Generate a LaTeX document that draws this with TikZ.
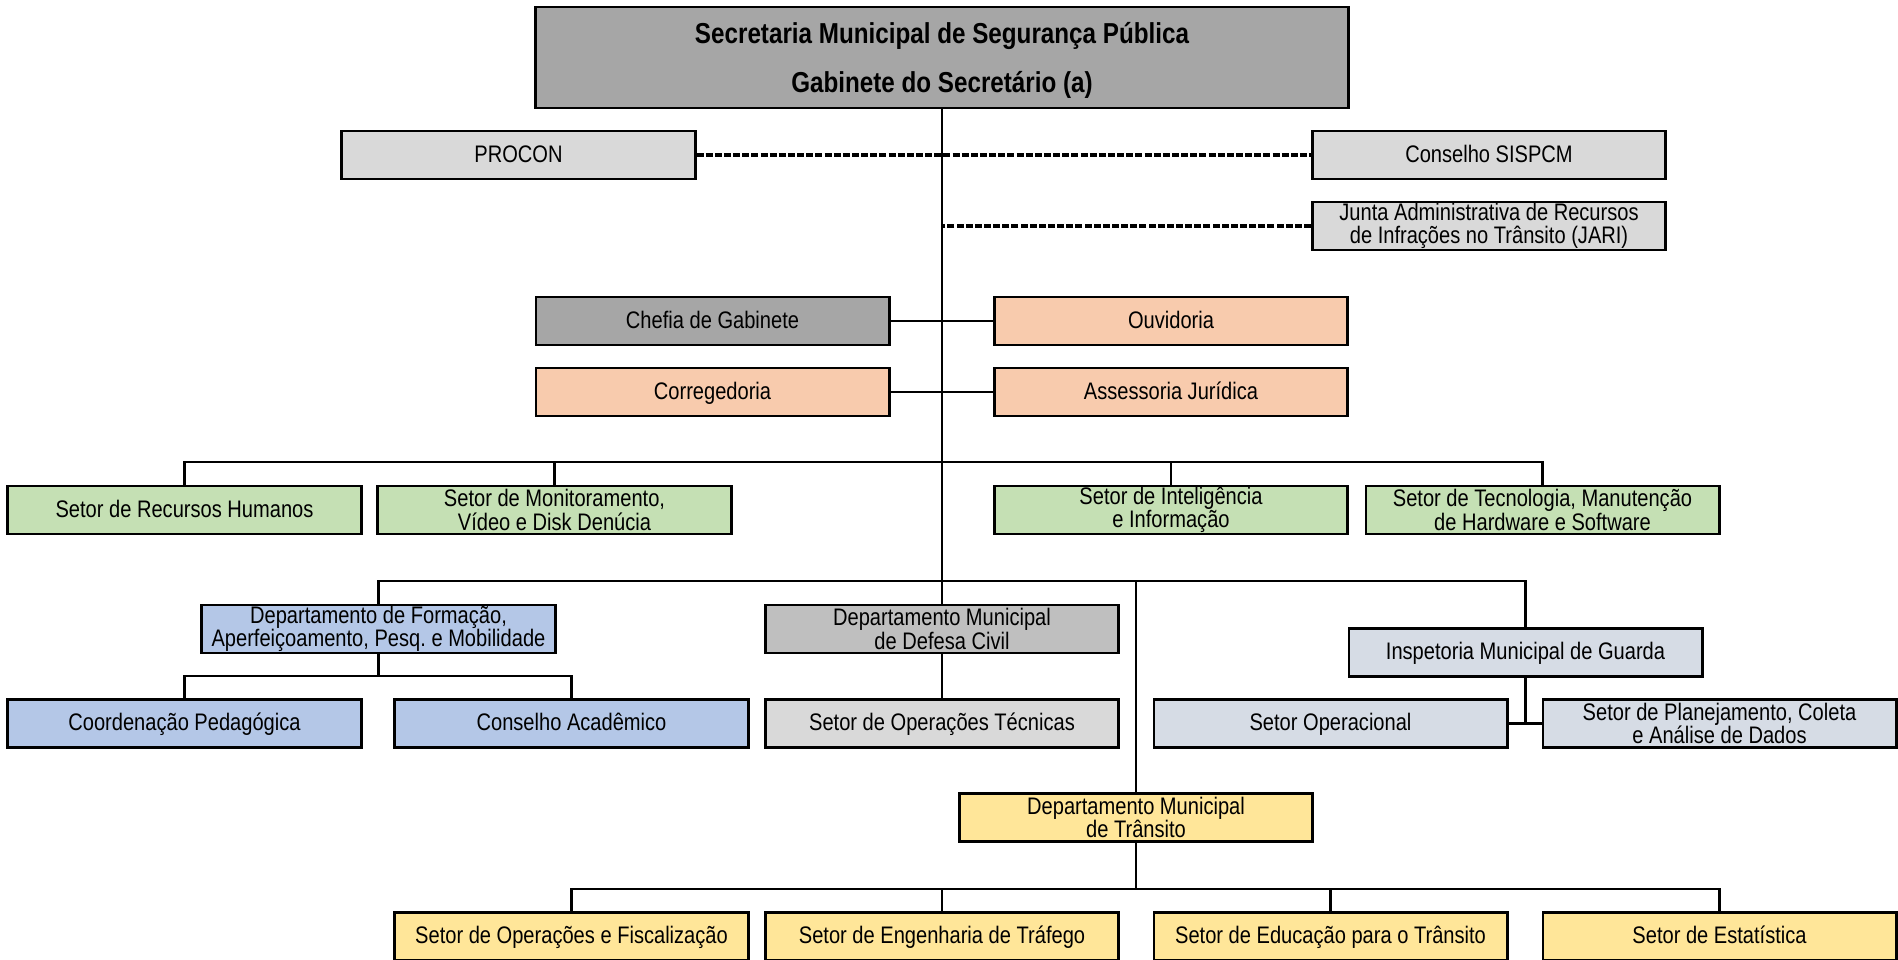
\documentclass[tikz,border=0pt]{standalone}
\usepackage{fontspec}
\setmainfont{Liberation Sans}[FakeStretch=0.84]
\frenchspacing
\definecolor{topgray}{HTML}{A6A6A6}
\definecolor{lightgray}{HTML}{D9D9D9}
\definecolor{civilgray}{HTML}{BFBFBF}
\definecolor{peach}{HTML}{F8CBAD}
\definecolor{sage}{HTML}{C5E0B4}
\definecolor{sky}{HTML}{B4C7E7}
\definecolor{mist}{HTML}{D6DCE5}
\definecolor{sand}{HTML}{FFE699}
\begin{document}
\begin{tikzpicture}[x=0.01cm,y=-0.01cm,line width=0.75pt,
    unit2/.style={draw, line width=0.8pt, minimum width=3.53cm, minimum height=0.48cm,
                  inner sep=0pt, align=center, font=\fontsize{6.8}{6.6}\selectfont},
    unit/.style={unit2, text height=4.4pt, text depth=0.3pt},
    link/.style={line width=0.9pt, dash pattern=on 2pt off 0.6pt}]
                    \useasboundingbox (0,0) rectangle (1898,959);
                    \clip (0,0) rectangle (1898,959);

                    \node[unit2, fill=topgray, minimum width=8.12cm, minimum height=1.01cm, text depth=0pt,
                          font=\bfseries\fontsize{8.2}{13.9}\selectfont] (sec) at (942,57.5)
                          {Secretaria Municipal de Segurança Pública\\Gabinete do Secretário (a)};

                    \node[unit, fill=lightgray] (procon) at (518.5,155) {PROCON};
                    \node[unit, fill=lightgray] (sispcm) at (1489,155) {Conselho SISPCM};
                    \node[unit2, fill=lightgray] (jari) at (1489,226) {Junta Administrativa de Recursos\\de Infrações no Trânsito (JARI)};

                    \node[unit, fill=topgray] (chefia) at (712.5,321) {Chefia de Gabinete};
                    \node[unit, fill=peach] (ouvidoria) at (1171,321) {Ouvidoria};
                    \node[unit, fill=peach] (corregedoria) at (712.5,392) {Corregedoria};
                    \node[unit, fill=peach] (juridica) at (1171,392) {Assessoria Jurídica};

                    \node[unit, fill=sage] (rh) at (184.5,510) {Setor de Recursos Humanos};
                    \node[unit2, fill=sage] (monit) at (554.5,510) {Setor de Monitoramento,\\Vídeo e Disk Denúcia};
                    \node[unit2, fill=sage] (intel) at (1171,510) {Setor de Inteligência\\e Informação};
                    \node[unit2, fill=sage] (tecno) at (1542.5,510) {Setor de Tecnologia, Manutenção\\de Hardware e Software};

                    \node[unit2, fill=sky] (formacao) at (378.5,629) {Departamento de Formação,\\Aperfeiçoamento, Pesq. e Mobilidade};
                    \node[unit2, fill=civilgray] (defesa) at (942,629) {Departamento Municipal\\de Defesa Civil};
                    \node[unit, fill=mist] (guarda) at (1525.5,652.5) {Inspetoria Municipal de Guarda};

                    \node[unit, fill=sky] (pedag) at (184.5,723.5) {Coordenação Pedagógica};
                    \node[unit, fill=sky] (academico) at (571.5,723.5) {Conselho Acadêmico};
                    \node[unit, fill=lightgray] (optec) at (942,723.5) {Setor de Operações Técnicas};
                    \node[unit, fill=mist] (operac) at (1330.5,723.5) {Setor Operacional};
                    \node[unit2, fill=mist] (planej) at (1719.5,723.5) {Setor de Planejamento, Coleta\\e Análise de Dados};

                    \node[unit2, fill=sand] (transito) at (1136,817.5) {Departamento Municipal\\de Trânsito};

                    \node[unit, fill=sand] (fiscal) at (571.5,936.5) {Setor de Operações e Fiscalização};
                    \node[unit, fill=sand] (engenh) at (942,936.5) {Setor de Engenharia de Tráfego};
                    \node[unit, fill=sand] (educ) at (1330.5,936.5) {Setor de Educação para o Trânsito};
                    \node[unit, fill=sand] (estat) at (1719.5,936.5) {Setor de Estatística};

                    \coordinate (bar1) at (0,462);
                    \coordinate (bar2) at (0,581);
                    \coordinate (bar3) at (0,676);
                    \coordinate (bar4) at (0,889);

                    % trunk and staff
                    \draw (sec) -- (defesa);
                    \draw[link] (procon) -- (sispcm);
                    \draw[link] (jari.west) -- (jari.west -| sec.south);
                    \draw (chefia) -- (ouvidoria);
                    \draw (corregedoria) -- (juridica);

                    % sectors
                    \draw (rh.north) |- (bar1 -| tecno) -- (tecno.north);
                    \foreach \s in {monit,intel}
                        \draw (\s.north) -- (\s.north |- bar1);

                    % departments
                    \draw (formacao.north) |- (bar2 -| guarda) -- (guarda.north);
                    \draw (transito.north) -- (transito.north |- bar2);
                    \draw (formacao.south) -- (formacao.south |- bar3);
                    \draw (pedag.north) |- (bar3 -| academico) -- (academico.north);
                    \draw (defesa) -- (optec);
                    \draw (guarda.south) -- (guarda.south |- operac);
                    \draw (operac) -- (planej);

                    % transito
                    \draw (transito.south) -- (transito.south |- bar4);
                    \draw (fiscal.north) |- (bar4 -| estat) -- (estat.north);
                    \foreach \s in {engenh,educ}
                        \draw (\s.north) -- (\s.north |- bar4);
                \end{tikzpicture}
\end{document}
